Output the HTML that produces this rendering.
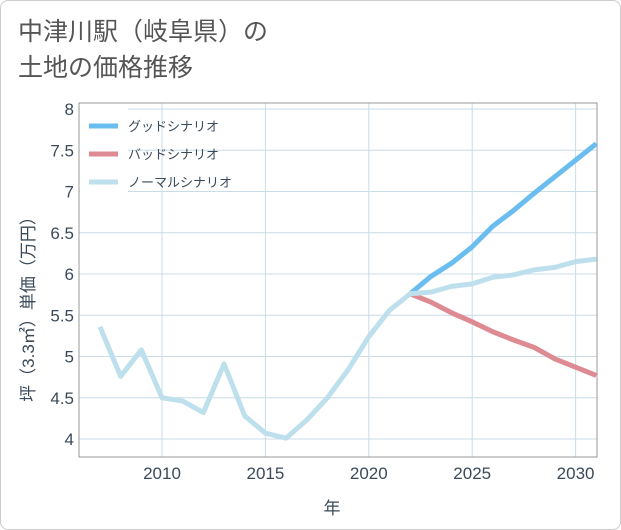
<!DOCTYPE html>
<html><head><meta charset="utf-8">
<style>
body{margin:0;background:#fff;}
.card{position:absolute;left:0;top:0;width:619px;height:528px;border:1px solid #ccc;border-radius:8px;background:#fff;}
.title{position:absolute;left:18px;top:14px;font:25px/36px "Liberation Sans","Noto Sans CJK JP",sans-serif;color:#555;}
svg{position:absolute;left:0;top:0;}
</style></head><body>
<div class="card"></div>
<div class="title">中津川駅（岐阜県）の<br>土地の価格推移</div>
<svg id="c" width="621" height="530"></svg>
<script>
const years=[2007,2008,2009,2010,2011,2012,2013,2014,2015,2016,2017,2018,2019,2020,2021,2022,2023,2024,2025,2026,2027,2028,2029,2030,2031];
const normalVals=[5.36,4.76,5.08,4.5,4.46,4.32,4.91,4.28,4.07,4.01,4.23,4.5,4.84,5.24,5.56,5.76,5.78,5.85,5.88,5.96,5.99,6.05,6.08,6.15,6.18];
const futureYears=[2022,2023,2024,2025,2026,2027,2028,2029,2030,2031];
const goodVals=[5.76,5.97,6.13,6.33,6.58,6.77,6.98,7.18,7.38,7.58];
const badVals=[5.76,5.66,5.53,5.42,5.30,5.20,5.11,4.97,4.87,4.77];
const xTicks=[2010,2015,2020,2025,2030];
const yTicks=[4,4.5,5,5.5,6,6.5,7,7.5,8];
const yTickLabels=["4","4.5","5","5.5","6","6.5","7","7.5","8"];
const legendLabels=["グッドシナリオ","バッドシナリオ","ノーマルシナリオ"];
const legendColors=["#6bbdf0","#de8a92","#bde0ec"];

const L=79,R=597,T=103,B=457;
const x=v=>162+(v-2010)*20.68;
const y=v=>439-(v-4)*82.5;
const svg=document.getElementById('c');
const NS='http://www.w3.org/2000/svg';
function mk(t,a){const e=document.createElementNS(NS,t);for(const k in a)e.setAttribute(k,a[k]);svg.appendChild(e);return e;}
const F='"Liberation Sans","Noto Sans CJK JP",sans-serif';

for(const t of xTicks){
 const g=mk('line',{x1:x(t),x2:x(t),y1:T,y2:B,stroke:'#c9dce8','stroke-width':1});
 
 
 const l=mk('text',{x:x(t),y:479,'text-anchor':'middle','font-size':17,fill:'#3a4a5a','font-family':F});
 l.textContent=t;
 
 
}
yTicks.forEach((t,i)=>{
 const g=mk('line',{x1:L,x2:R,y1:y(t),y2:y(t),stroke:'#c9dce8','stroke-width':1});
 
 
 const l=mk('text',{x:74,y:y(t)+6,'text-anchor':'end','font-size':17,fill:'#3a4a5a','font-family':F});
 l.textContent=yTickLabels[i];
 
 
});
const fr=mk('rect',{x:L,y:T,width:R-L,height:B-T,fill:'none',stroke:'#999','stroke-width':1});



const lb=mk('rect',{x:L+1,y:T+1,width:48,height:92,fill:'#fff'});



function series(xs,vs,color,name){
 const p=mk('polyline',{points:xs.map((v,i)=>x(v)+','+y(vs[i])).join(' '),fill:'none',stroke:color,'stroke-width':5,'stroke-linejoin':'round'});
 
 
}
series(futureYears,goodVals,legendColors[0],'good-scenario-line');
series(futureYears,badVals,legendColors[1],'bad-scenario-line');
series(years,normalVals,legendColors[2],'normal-scenario-line');

legendLabels.forEach((s,i)=>{
 const yy=126+i*28;
 const sw=mk('line',{x1:89,x2:118,y1:yy,y2:yy,stroke:legendColors[i],'stroke-width':5});
 
 
 const t=mk('text',{x:128,y:yy+5,'font-size':13,fill:'#3a4a5a','font-family':F});
 t.textContent=s;
 
 
});

const xt=mk('text',{x:332,y:514,'text-anchor':'middle','font-size':17,fill:'#3a4a5a','font-family':F});
xt.textContent='年';


const yt=mk('text',{x:0,y:0,'text-anchor':'middle','font-size':17,fill:'#3a4a5a','font-family':F,transform:'translate(34,305) rotate(-90)'});
yt.textContent='坪（3.3㎡）単価（万円）';


</script>
</body></html>
